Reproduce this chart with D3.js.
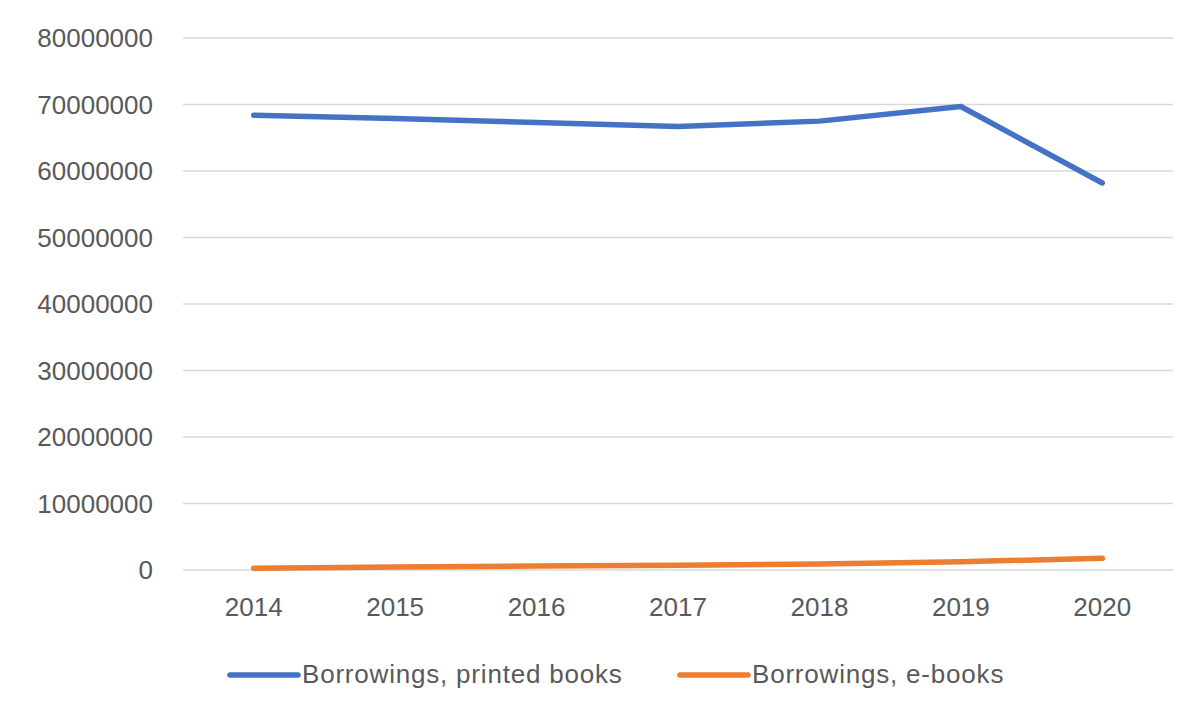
<!DOCTYPE html>
<html>
<head>
<meta charset="utf-8">
<script src="https://cdn.jsdelivr.net/npm/d3@7"></script>
<style>
  body { margin: 0; background: #fff; }
  text { font-family: "Liberation Sans", Arial, sans-serif; fill: #595959; }
</style>
</head>
<body>
<div class="canvas"></div>
<script>
const years = ["2014", "2015", "2016", "2017", "2018", "2019", "2020"];
const printedBooks = [68400000, 67900000, 67300000, 66700000, 67500000, 69700000, 58200000];
const eBooks = [250000, 450000, 600000, 700000, 900000, 1250000, 1750000];
const yTicks = [0, 10000000, 20000000, 30000000, 40000000, 50000000, 60000000, 70000000, 80000000];

const series = [
  { name: "Borrowings, printed books", values: printedBooks, color: "#4472C4" },
  { name: "Borrowings, e-books", values: eBooks, color: "#ED7D31" },
];

const dims = { width: 1200, height: 716 };
const plot = { left: 183, right: 1173, top: 38, bottom: 570 };

const svg = d3
  .select(".canvas")
  .append("svg")
  .attr("width", dims.width)
  .attr("height", dims.height);

const x = d3.scaleBand().domain(years).range([plot.left, plot.right]);
const y = d3.scaleLinear().domain([0, 80000000]).range([plot.bottom, plot.top]);

// gridlines
svg
  .append("g")
  .selectAll("line")
  .data(yTicks)
  .join("line")
  .attr("x1", plot.left)
  .attr("x2", plot.right)
  .attr("y1", (d) => y(d))
  .attr("y2", (d) => y(d))
  .attr("stroke", "#d9d9d9")
  .attr("stroke-width", 1.3);

// y labels
svg
  .append("g")
  .selectAll("text")
  .data(yTicks)
  .join("text")
  .attr("x", 153)
  .attr("y", (d) => y(d))
  .attr("dy", "0.36em")
  .attr("text-anchor", "end")
  .attr("font-size", 26)
  .text((d) => d);

// x labels
svg
  .append("g")
  .selectAll("text")
  .data(years)
  .join("text")
  .attr("x", (d) => x(d) + x.bandwidth() / 2)
  .attr("y", 607)
  .attr("dy", "0.36em")
  .attr("text-anchor", "middle")
  .attr("font-size", 26)
  .text((d) => d);

const line = d3
  .line()
  .x((d, i) => x(years[i]) + x.bandwidth() / 2)
  .y((d) => y(d));

svg
  .append("g")
  .selectAll("path")
  .data(series)
  .join("path")
  .attr("d", (d) => line(d.values))
  .attr("fill", "none")
  .attr("stroke", (d) => d.color)
  .attr("stroke-width", 5.5)
  .attr("stroke-linecap", "round")
  .attr("stroke-linejoin", "round");

// legend
const legendX = [230, 680];
const legend = svg
  .append("g")
  .selectAll("g")
  .data(series)
  .join("g")
  .attr("transform", (d, i) => `translate(${legendX[i]}, 675)`);

legend
  .append("line")
  .attr("x1", 0)
  .attr("x2", 68)
  .attr("stroke", (d) => d.color)
  .attr("stroke-width", 5.5)
  .attr("stroke-linecap", "round");

legend
  .append("text")
  .attr("x", 72)
  .attr("dy", "0.3em")
  .attr("font-size", 26)
  .attr("letter-spacing", 0.8)
  .text((d) => d.name);
</script>
</body>
</html>
